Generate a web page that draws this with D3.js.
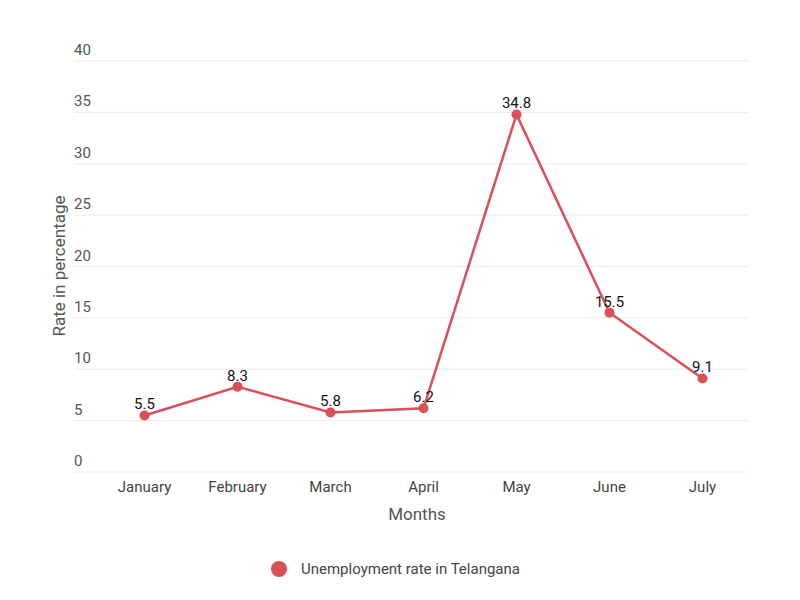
<!DOCTYPE html>
<html><head><meta charset="utf-8">
<script src="https://cdn.jsdelivr.net/npm/d3@7"></script>
<style>body{margin:0;background:#fff;font-family:Roboto,sans-serif;}</style>
</head><body><svg id="c" width="800" height="600"></svg>
<script>
const months = ["January","February","March","April","May","June","July"];
const rates = [5.5, 8.3, 5.8, 6.2, 34.8, 15.5, 9.1];
const yTicks = [0,5,10,15,20,25,30,35,40];
const seriesName = "Unemployment rate in Telangana";
const color = "#db4f56";

const svg = d3.select("#c");
const x = d3.scaleBand().domain(months).range([98, 749]);
const y = d3.scaleLinear().domain([0,40]).range([472, 61]);

const g = svg.append("g");
yTicks.forEach(t=>{
  g.append("line").attr("x1",74).attr("x2",748).attr("y1",y(t)).attr("y2",y(t))
   .attr("stroke","#ebebeb").attr("stroke-width",1);
  g.append("text").attr("x",74).attr("y",y(t)-6).text(t)
   .attr("font-size",15).attr("fill","#555");
});

months.forEach(m=>{
  svg.append("text").attr("x",x(m)+x.bandwidth()/2).attr("y",492).attr("text-anchor","middle")
   .attr("font-size",15).attr("fill","#444").text(m);
});

svg.append("text").attr("x",417).attr("y",520).attr("text-anchor","middle")
  .attr("font-size",17).attr("fill","#555").text("Months");
svg.append("text").attr("transform","translate(65,266) rotate(-90)").attr("text-anchor","middle")
  .attr("font-size",17).attr("fill","#555").text("Rate in percentage");

const cx = d => x(d.m)+x.bandwidth()/2;
const data = months.map((m,i)=>({m, v:rates[i]}));
svg.append("path").datum(data)
  .attr("d", d3.line().x(cx).y(d=>y(d.v)))
  .attr("fill","none").attr("stroke",color).attr("stroke-width",2.5);
svg.selectAll("circle.p").data(data).join("circle").attr("class","p")
  .attr("cx",cx).attr("cy",d=>y(d.v)).attr("r",5).attr("fill",color);
svg.selectAll("text.v").data(data).join("text").attr("class","v")
  .attr("x",cx).attr("y",d=>y(d.v)-6).attr("text-anchor","middle")
  .attr("font-size",15).attr("fill","#111").text(d=>d.v);

svg.append("circle").attr("cx",279).attr("cy",569).attr("r",8).attr("fill",color);
svg.append("text").attr("x",301).attr("y",574).attr("font-size",15)
  .attr("fill","#444").text(seriesName);
</script></body></html>
